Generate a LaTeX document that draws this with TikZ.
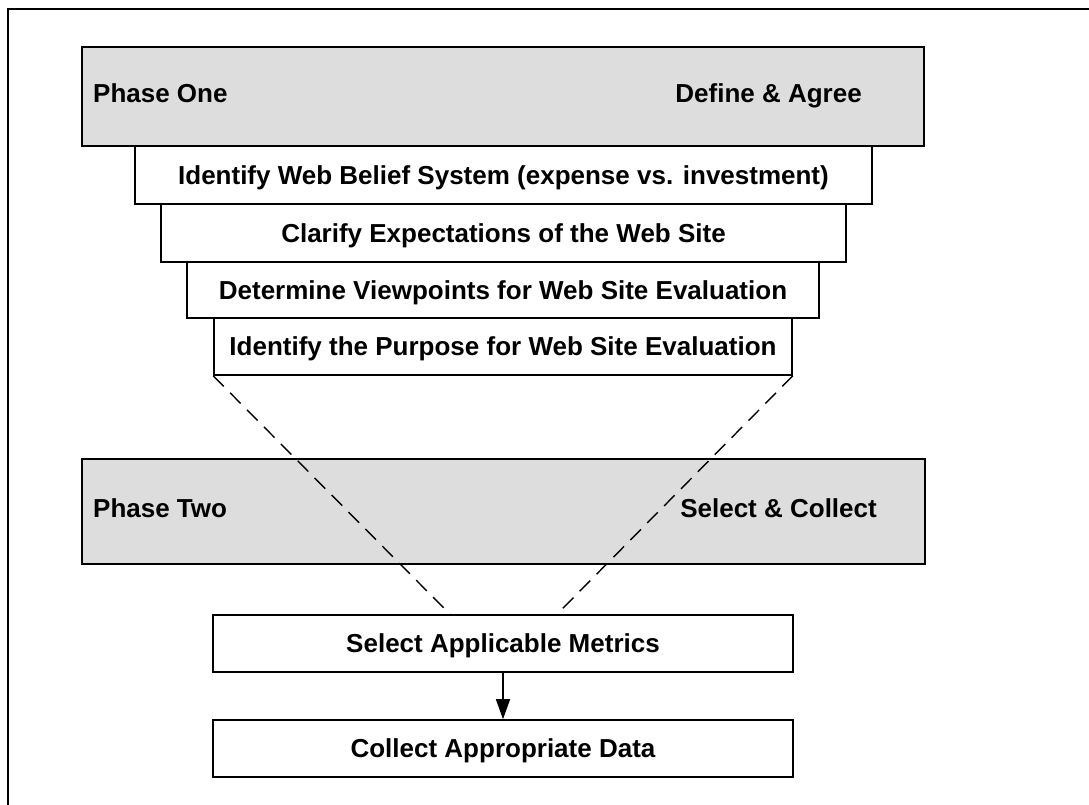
\documentclass[tikz,border=0pt]{standalone}
\usepackage{fontspec}
\setmainfont{Liberation Sans}
\usetikzlibrary{arrows.meta}
\definecolor{phasegray}{RGB}{221,221,221}
\tikzset{
  base/.style={draw=black, line width=1.6pt, rectangle, inner sep=0pt,
    font=\fontsize{26}{30}\selectfont\bfseries, text height=18.6pt, text depth=0pt},
  phasebox/.style={base, fill=phasegray},
  stepbox/.style={base, fill=white},
  phaselabel/.style={inner sep=0pt, font=\fontsize{26}{30}\selectfont\bfseries},
  guide/.style={line width=1.4pt, dash pattern=on 15pt off 9pt},
  flow/.style={line width=1.4pt, -{Triangle[length=20pt,width=14pt]}},
  frame/.style={line width=2.2pt}
}
\begin{document}
\begin{tikzpicture}[x=1pt,y=-1pt]
  \useasboundingbox (0,0) rectangle (1089,804);
  % outer frame (top and left edges)
  \draw[frame] (8,806) -- (8,9) -- (1091,9);

  % phase one and its steps
  \node[phasebox, minimum width=842pt, minimum height=99pt] (p1) at (503,96.5) {};
  \node[phaselabel, anchor=base west] (p1name) at (93,102) {Phase One};
  \node[phaselabel, anchor=base east] (p1goal) at (862,102) {Define \& Agree};

  \node[stepbox, minimum width=737pt, minimum height=58pt] (s1) at (503.5,175)
    {Identify Web Belief System (expense vs. investment)};
  \node[stepbox, minimum width=685pt, minimum height=58pt] (s2) at (503.5,233)
    {Clarify Expectations of the Web Site};
  \node[stepbox, minimum width=632pt, minimum height=56pt] (s3) at (503,290)
    {Determine Viewpoints for Web Site Evaluation};
  \node[stepbox, minimum width=578pt, minimum height=57pt] (s4) at (503,346.5)
    {Identify the Purpose for Web Site Evaluation};

  % phase two and its steps
  \node[phasebox, minimum width=843pt, minimum height=105pt] (p2) at (503.5,511.5) {};
  \node[phaselabel, anchor=base west] (p2name) at (93,517) {Phase Two};
  \node[phaselabel, anchor=base east] (p2goal) at (877,517) {Select \& Collect};

  \node[stepbox, minimum width=580pt, minimum height=57pt] (m) at (503,643.5)
    {Select Applicable Metrics};
  \node[stepbox, minimum width=580pt, minimum height=57pt] (d) at (503,748.5)
    {Collect Appropriate Data};

  % funnel from phase one into phase two
  \draw[guide] (s4.south west) -- ([xshift=-53pt]m.north);
  \draw[guide] (s4.south east) -- ([xshift=54pt]m.north);

  \draw[flow] (m) -- (d);
\end{tikzpicture}
\end{document}
